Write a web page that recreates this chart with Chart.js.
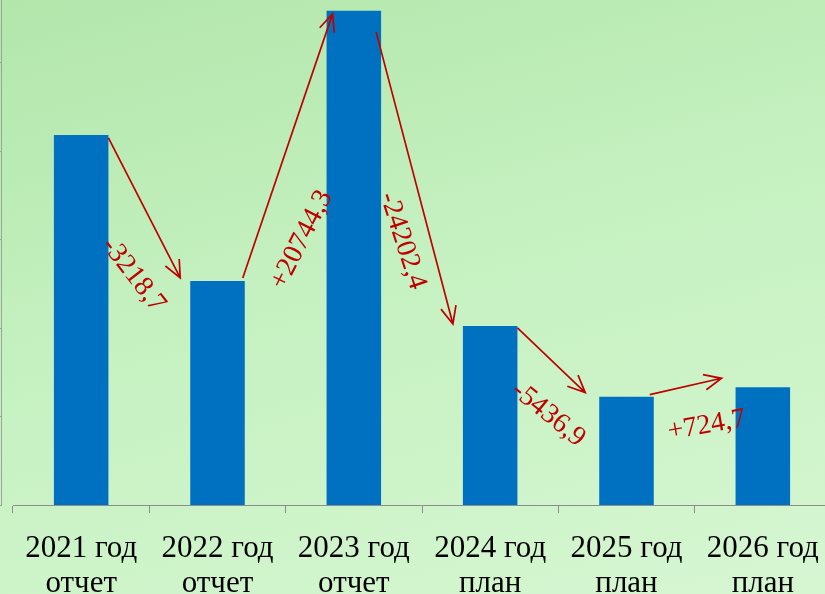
<!DOCTYPE html>
<html>
<head>
<meta charset="utf-8">
<script src="https://cdn.jsdelivr.net/npm/chart.js@4.4.1/dist/chart.umd.min.js"></script>
<style>
  html, body { margin: 0; padding: 0; width: 825px; height: 594px; overflow: hidden; }
  body { background: linear-gradient(165deg, #b2e6ab 0%, #c5f1c0 45%, #d6f6d2 100%); }
  #wrap { position: absolute; left: 0; top: 0; width: 831px; height: 594px; }
</style>
</head>
<body>
<div id="wrap"><canvas id="c" width="831" height="594"></canvas></div>
<script>
// категории и значения (оценка по высоте столбцов)
const years = [['2021 год', 'отчет'], ['2022 год', 'отчет'], ['2023 год', 'отчет'], ['2024 год', 'план'], ['2025 год', 'план'], ['2026 год', 'план']];
const values = [28420, 17210, 37950, 13750, 8320, 9040];
// подписи изменений между годами
const changes = ['-3218,7', '+20744,3', '-24202,4', '-5436,9', '+724,7'];

const YMAX = 38784, YSTEP = 6800;
const RED = '#c00000';

// смещения стрелок от углов столбцов: [sx, sy, ex, ey]
const arrowOff = [[0, 3, -10, -3], [-2, -3, 6, 3], [-5, 21, -10, -2], [0, 2, -14, -4], [-4, -2, -14, -9]];
// смещения подписей от середины стрелки и угол поворота
const labelOff = [[-11, 67, 52], [14, 94, -63], [-12, 63, 72], [-3, 54, 39], [21, 39, -10]];

function arrow(ctx, x1, y1, x2, y2) {
  const a = Math.atan2(y2 - y1, x2 - x1), L = 19, s = 0.42;
  ctx.beginPath();
  ctx.moveTo(x1, y1); ctx.lineTo(x2, y2);
  ctx.moveTo(x2 - L * Math.cos(a - s), y2 - L * Math.sin(a - s));
  ctx.lineTo(x2, y2);
  ctx.lineTo(x2 - L * Math.cos(a + s), y2 - L * Math.sin(a + s));
  ctx.stroke();
}

const changesPlugin = {
  id: 'changes',
  afterDatasetsDraw(chart) {
    const ctx = chart.ctx, bars = chart.getDatasetMeta(0).data;
    ctx.save();
    ctx.strokeStyle = RED; ctx.lineWidth = 1.7; ctx.fillStyle = RED;
    ctx.font = '28px "Liberation Serif", "Times New Roman", serif';
    ctx.textAlign = 'center'; ctx.textBaseline = 'middle';
    for (let i = 0; i < changes.length; i++) {
      const b = bars[i], n = bars[i + 1], o = arrowOff[i], lo = labelOff[i];
      const x1 = b.x + b.width / 2 + o[0], y1 = b.y + o[1];
      const x2 = n.x - n.width / 2 + o[2], y2 = n.y + o[3];
      arrow(ctx, x1, y1, x2, y2);
      const mx = (x1 + x2) / 2 + lo[0], my = (y1 + y2) / 2 + lo[1];
      ctx.save();
      ctx.translate(mx, my); ctx.rotate(lo[2] * Math.PI / 180);
      ctx.fillText(changes[i], 0, 0);
      ctx.restore();
    }
    ctx.restore();
  },
  afterDraw(chart) {
    // левая ось без подписей
    const ctx = chart.ctx, y = chart.scales.y, area = chart.chartArea;
    ctx.save();
    ctx.strokeStyle = '#9aa59a'; ctx.lineWidth = 1;
    ctx.beginPath(); ctx.moveTo(1.5, area.top); ctx.lineTo(1.5, area.bottom); ctx.stroke();
    for (let v = 0; v <= YMAX; v += YSTEP) {
      const py = Math.round(y.getPixelForValue(v)) + 0.5;
      ctx.beginPath(); ctx.moveTo(-4, py); ctx.lineTo(2, py); ctx.stroke();
    }
    ctx.restore();
  }
};

new Chart(document.getElementById('c'), {
  type: 'bar',
  data: {
    labels: years,
    datasets: [{ data: values, backgroundColor: '#0070c0', barPercentage: 0.4, categoryPercentage: 1 }]
  },
  options: {
    responsive: false, devicePixelRatio: 1, animation: false,
    layout: { padding: { left: 13, top: 0, right: 0, bottom: 0 } },
    plugins: { legend: { display: false }, tooltip: { enabled: false } },
    scales: {
      x: {
        grid: { drawOnChartArea: false, tickLength: 8, color: '#8c8c8c', offset: true },
        border: { color: '#8c8c8c' },
        ticks: { color: '#000', padding: 18, font: { family: '"Liberation Serif", "Times New Roman", serif', size: 31, lineHeight: 1.13 } },
        afterFit(s) { s.height = 89; s.paddingLeft = 0; s.paddingRight = 0; }
      },
      y: { display: false, min: 0, max: YMAX }
    }
  },
  plugins: [changesPlugin]
});
</script>
</body>
</html>
